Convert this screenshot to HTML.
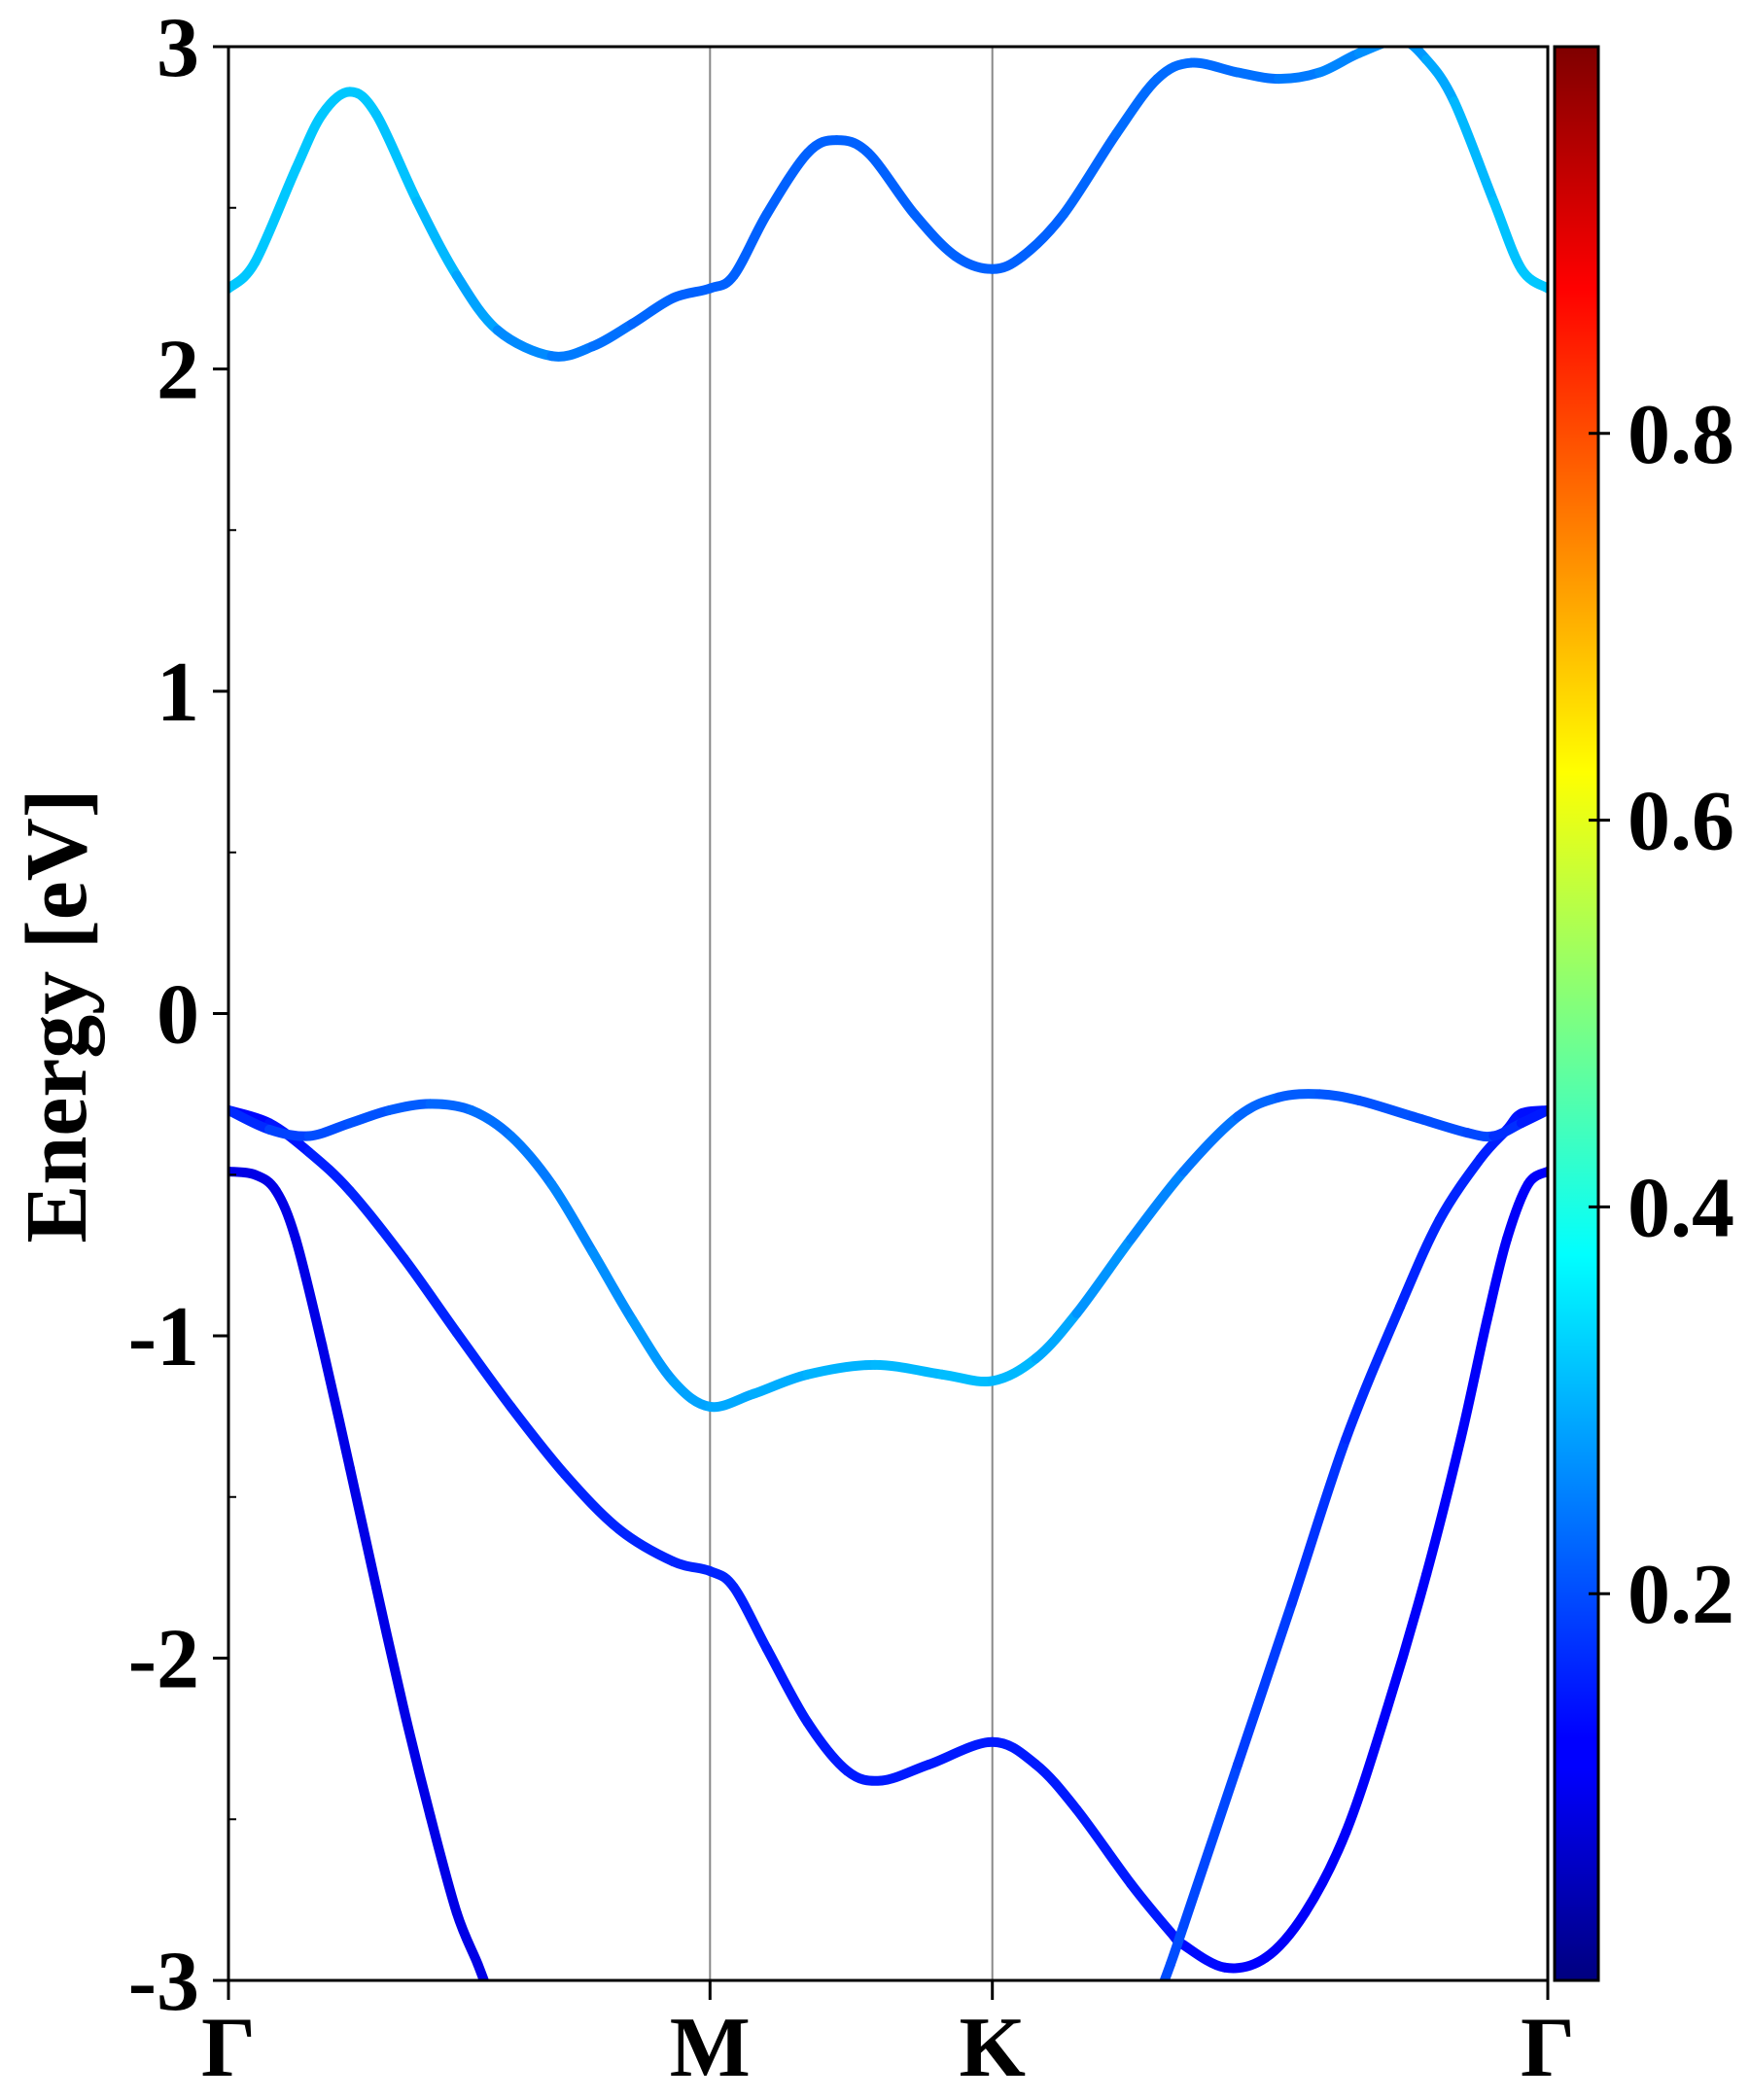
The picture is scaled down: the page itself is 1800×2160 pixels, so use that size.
<!DOCTYPE html>
<html><head><meta charset="utf-8"><style>
html,body{margin:0;padding:0;background:#fff;}
svg{display:block;}
text{font-family:"Liberation Serif",serif;font-weight:bold;fill:#000;}
</style></head><body>
<svg id="chart" width="1800" height="2160" viewBox="0 0 1800 2160" xmlns="http://www.w3.org/2000/svg">
<defs>
<linearGradient id="jet" x1="0" y1="1" x2="0" y2="0">
<stop offset="0" stop-color="#00007f"/><stop offset="0.11" stop-color="#0000ff"/><stop offset="0.125" stop-color="#0000ff"/><stop offset="0.375" stop-color="#00ffff"/><stop offset="0.5" stop-color="#7fff7f"/><stop offset="0.625" stop-color="#ffff00"/><stop offset="0.875" stop-color="#ff0000"/><stop offset="1" stop-color="#7f0000"/>
</linearGradient>
<clipPath id="plotclip"><rect x="235" y="48" width="1357" height="1989"/></clipPath>
</defs>
<g id="grid"></g>
<g id="bands" clip-path="url(#plotclip)"></g>
<rect x="235" y="48" width="1357" height="1989" fill="none" stroke="#000" stroke-width="3"/>
<g id="axes"></g>
<rect x="1599" y="48" width="45" height="1989" fill="url(#jet)" stroke="#000" stroke-width="3"/>
<g id="cbar"></g>
<text transform="translate(88,1045) rotate(-90)" text-anchor="middle" font-size="90">Energy [eV]</text>
</svg>
<script>
const kLabels = ["Γ","M","K","Γ"];
const kPositions = [0, 36.5, 57.9, 100];
const yTicks = [-3,-2,-1,0,1,2,3];
const yMinor = [-2.5,-1.5,-0.5,0.5,1.5,2.5];
const cbTicks = [0.2,0.4,0.6,0.8];

const c1K = [0,2.0,5.1,7.1,9.2,11.2,14.3,17.3,20.4,24.5,27.6,30.6,33.7,36.5,38.3,40.8,43.9,46.1,48.5,52.0,55.1,57.9,60.2,63.3,67.3,70.4,73.0,76.5,79.6,82.7,85.7,88.8,90.8,92.9,95.9,98.0,100];
const c1E = [2.25,2.33,2.62,2.79,2.86,2.79,2.52,2.29,2.12,2.04,2.07,2.14,2.22,2.25,2.29,2.48,2.67,2.71,2.67,2.48,2.35,2.31,2.35,2.48,2.73,2.90,2.95,2.92,2.90,2.92,2.98,3.02,2.96,2.83,2.52,2.31,2.25];
const c1W = [0.32,0.32,0.32,0.32,0.32,0.32,0.31,0.30,0.27,0.25,0.24,0.23,0.22,0.22,0.22,0.22,0.22,0.22,0.22,0.22,0.22,0.22,0.22,0.22,0.23,0.23,0.23,0.23,0.24,0.25,0.26,0.27,0.28,0.30,0.31,0.32,0.32];

const v1K = [0,3.1,6.1,9.2,12.2,15.3,18.4,21.4,24.5,27.6,30.6,33.7,36.5,39.8,43.9,49.0,54.1,57.9,61.2,64.3,68.4,72.4,76.5,79.6,82.7,85.7,89.8,93.9,95.9,98.0,100];
const v1E = [-0.30,-0.36,-0.38,-0.34,-0.30,-0.28,-0.30,-0.38,-0.53,-0.74,-0.95,-1.14,-1.22,-1.18,-1.12,-1.09,-1.12,-1.14,-1.07,-0.93,-0.70,-0.49,-0.32,-0.26,-0.25,-0.27,-0.32,-0.37,-0.38,-0.34,-0.30];
const v1W = [0.15,0.18,0.2,0.2,0.21,0.22,0.23,0.24,0.25,0.26,0.27,0.28,0.29,0.29,0.30,0.30,0.31,0.31,0.30,0.28,0.26,0.25,0.23,0.22,0.21,0.21,0.2,0.2,0.19,0.15,0.15];

const v2K = [0,3.1,6.1,9.2,13.3,17.3,21.4,25.5,29.6,33.7,36.5,38.3,40.8,43.9,46.9,49.5,53.1,57.9,61.2,64.3,68.4,71.4,72.4,75.5,78.6,81.6,84.7,87.8,90.8,93.4,95.4,96.9,98.5,100];
const v2E = [-0.30,-0.34,-0.43,-0.55,-0.76,-0.99,-1.22,-1.43,-1.60,-1.70,-1.73,-1.78,-1.97,-2.20,-2.35,-2.38,-2.33,-2.26,-2.33,-2.47,-2.70,-2.85,-2.89,-2.96,-2.93,-2.79,-2.54,-2.16,-1.74,-1.32,-0.95,-0.70,-0.53,-0.49];
const v2W = [0.12,0.14,0.15,0.16,0.16,0.16,0.16,0.16,0.16,0.16,0.16,0.16,0.15,0.15,0.15,0.15,0.15,0.15,0.15,0.15,0.15,0.15,0.14,0.13,0.12,0.12,0.12,0.12,0.12,0.12,0.12,0.12,0.12,0.12];

const v3K = [0,2.0,3.6,5.1,7.1,9.2,11.2,13.3,15.3,17.3,18.9,19.9];
const v3E = [-0.49,-0.50,-0.55,-0.70,-1.03,-1.41,-1.78,-2.16,-2.49,-2.79,-2.95,-3.06];
const v3W = [0.1,0.1,0.1,0.1,0.1,0.1,0.1,0.1,0.1,0.1,0.1,0.1];

const v4K = [70.4,71.4,72.4,76.5,80.6,84.7,88.8,91.8,94.9,96.9,98.0,100];
const v4E = [-3.06,-2.95,-2.83,-2.33,-1.83,-1.32,-0.91,-0.64,-0.45,-0.36,-0.31,-0.30];
const v4W = [0.2,0.2,0.2,0.19,0.18,0.17,0.16,0.16,0.16,0.15,0.14,0.14];

const X0=235, X1=1592, Y0=48, Y1=2037;
const xS = k => X0 + k/100*(X1-X0);
const yS = e => Y0 + (3-e)/6*(Y1-Y0);
const cS = v => Y1 - v*(Y1-Y0);
const NS="http://www.w3.org/2000/svg";
function mk(tag, parent, attrs){const el=document.createElementNS(NS,tag);for(const a in attrs)el.setAttribute(a,attrs[a]);parent.appendChild(el);return el;}
function jet(v){const c=t=>Math.round(255*Math.max(0,Math.min(1,1.5-Math.abs(4*v-t))));return `rgb(${c(3)},${c(2)},${c(1)})`;}

const grid=document.getElementById('grid');
kPositions.slice(1,3).forEach(k=>{
  const l=mk('line',grid,{x1:xS(k),x2:xS(k),y1:Y0,y2:Y1,stroke:'#888','stroke-width':2});
  
  
});

const bandsG=document.getElementById('bands');
function drawBand(K,E,W,name){
  const g=mk('g',bandsG,{});
  
  
  const P=K.map((k,i)=>[xS(k),yS(E[i])]);
  for(let i=0;i<P.length-1;i++){
    const p0=P[Math.max(0,i-1)],p1=P[i],p2=P[i+1],p3=P[Math.min(P.length-1,i+2)];
    const c1=[p1[0]+(p2[0]-p0[0])/6,p1[1]+(p2[1]-p0[1])/6];
    const c2=[p2[0]-(p3[0]-p1[0])/6,p2[1]-(p3[1]-p1[1])/6];
    const s=mk('path',g,{d:`M${p1[0]},${p1[1]}C${c1[0]},${c1[1]} ${c2[0]},${c2[1]} ${p2[0]},${p2[1]}`,fill:'none',stroke:jet((W[i]+W[i+1])/2),'stroke-width':10,'stroke-linecap':'round'});
    
    
  }
}
drawBand(v3K,v3E,v3W,'valence-band-3');
drawBand(v2K,v2E,v2W,'valence-band-2');
drawBand(v4K,v4E,v4W,'valence-band-4');
drawBand(v1K,v1E,v1W,'valence-band-1');
drawBand(c1K,c1E,c1W,'conduction-band-1');

const ax=document.getElementById('axes');
yTicks.forEach(v=>{
  const t=mk('line',ax,{x1:X0-16,x2:X0,y1:yS(v),y2:yS(v),stroke:'#000','stroke-width':3});
  
  
  const tx=mk('text',ax,{x:X0-30,y:yS(v)+30,'text-anchor':'end','font-size':88});
  tx.textContent=String(v);
  
  
});
yMinor.forEach(v=>{
  const t=mk('line',ax,{x1:X0,x2:X0+8,y1:yS(v),y2:yS(v),stroke:'#000','stroke-width':2});
  
  
});
kPositions.forEach((k,i)=>{
  const t=mk('line',ax,{x1:xS(k),x2:xS(k),y1:Y1,y2:Y1+20,stroke:'#000','stroke-width':3});
  
  
  const tx=mk('text',ax,{x:xS(k),y:2135,'text-anchor':'middle','font-size':88});
  tx.textContent=kLabels[i];
  
  
});
const cb=document.getElementById('cbar');
cbTicks.forEach(v=>{
  const t=mk('line',cb,{x1:1634,x2:1656,y1:cS(v),y2:cS(v),stroke:'#000','stroke-width':3});
  
  
  const tx=mk('text',cb,{x:1674,y:cS(v)+30,'font-size':88});
  tx.textContent=v.toFixed(1);
  
  
});
</script>
</body></html>
